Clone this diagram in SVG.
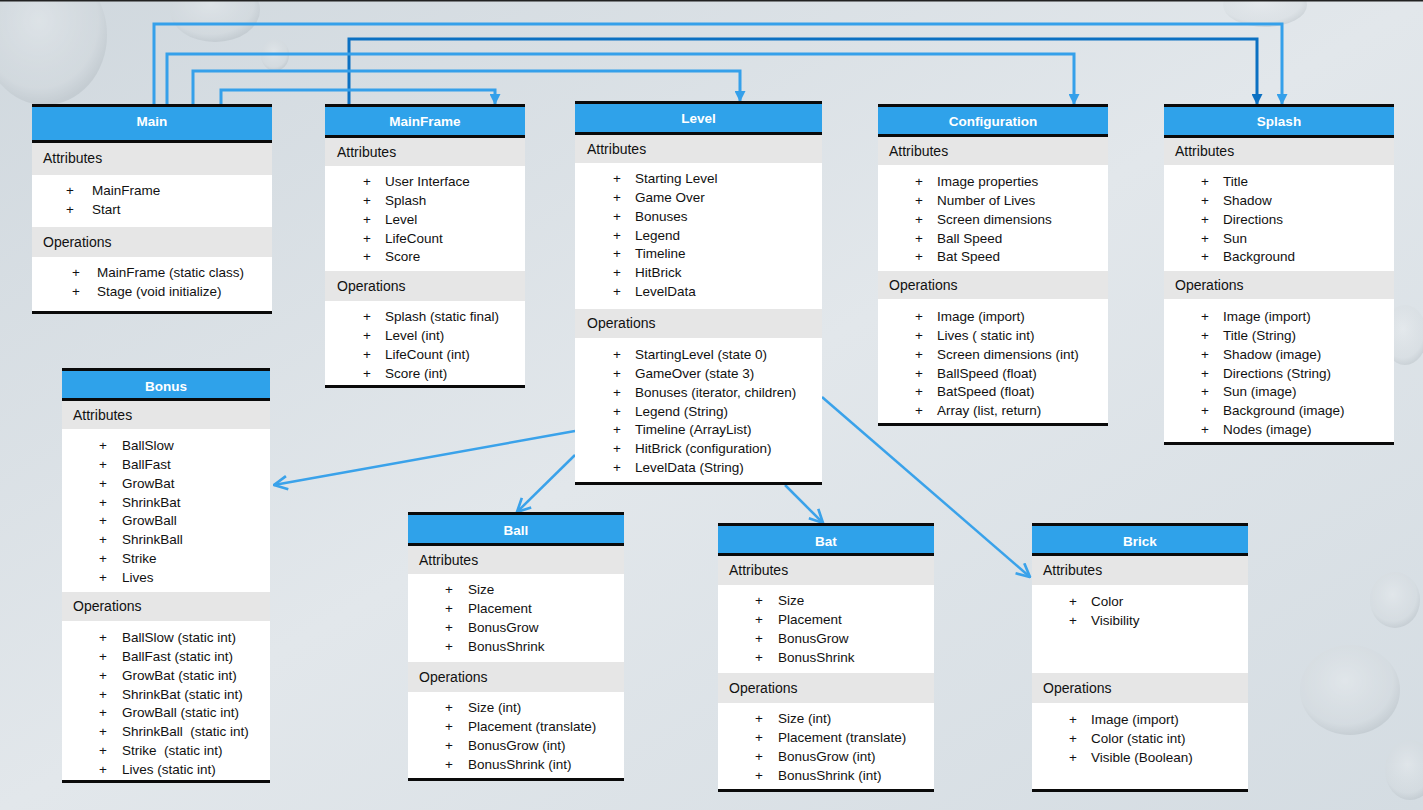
<svg xmlns="http://www.w3.org/2000/svg" width="1423" height="810" viewBox="0 0 1423 810">
<style>
.bar{fill:#0a0a0a}
.hdr{fill:#2fa2ea}
.band{fill:#e6e6e6}
.body{fill:#ffffff}
.title{font-family:"Liberation Sans",Arial,sans-serif;font-size:13.5px;font-weight:bold;fill:#ffffff;text-anchor:middle}
.sec{font-family:"Liberation Sans",Arial,sans-serif;font-size:14px;fill:#111111}
.it{font-family:"Liberation Sans",Arial,sans-serif;font-size:13.5px;fill:#111111}
.pl{font-family:"Liberation Sans",Arial,sans-serif;font-size:13.5px;fill:#111111;text-anchor:middle}
.c{fill:none;stroke:#35a0ea;stroke-width:3}
.cd{fill:none;stroke:#0b70c2;stroke-width:3}
.d{fill:none;stroke:#3aa2ea;stroke-width:2.5}
</style>
<defs>
<linearGradient id="bg" x1="0" y1="0" x2="1" y2="1">
<stop offset="0" stop-color="#d0d8de"/>
<stop offset="0.5" stop-color="#e2e7eb"/>
<stop offset="1" stop-color="#d4dce2"/>
</linearGradient>
<radialGradient id="drop" cx="0.45" cy="0.4" r="0.6">
<stop offset="0" stop-color="#eef1f3" stop-opacity="0.7"/>
<stop offset="0.8" stop-color="#d2d8dc" stop-opacity="0.5"/>
<stop offset="1" stop-color="#a3acb2" stop-opacity="0.5"/>
</radialGradient>
<marker id="a" viewBox="0 0 10 10" refX="10" refY="5" markerWidth="11" markerHeight="11" markerUnits="userSpaceOnUse" orient="auto">
<path d="M0,0 L10,5 L0,10 z" fill="#35a0ea"/>
</marker>
<marker id="ad" viewBox="0 0 10 10" refX="10" refY="5" markerWidth="11" markerHeight="11" markerUnits="userSpaceOnUse" orient="auto">
<path d="M0,0 L10,5 L0,10 z" fill="#0b70c2"/>
</marker>
<marker id="o" viewBox="-1 -1 12 12" refX="10" refY="5" markerWidth="16" markerHeight="16" markerUnits="userSpaceOnUse" orient="auto">
<path d="M0,0 L10,5 L0,10" fill="none" stroke="#3aa2ea" stroke-width="2"/>
</marker>
</defs>

<rect x="0" y="0" width="1423" height="810" fill="url(#bg)"/>
<g opacity="0.6">
<ellipse cx="45" cy="35" rx="62" ry="70" fill="url(#drop)"/>
<ellipse cx="215" cy="10" rx="45" ry="32" fill="url(#drop)"/>
<ellipse cx="275" cy="55" rx="14" ry="16" fill="url(#drop)"/>
<ellipse cx="1265" cy="5" rx="42" ry="22" fill="url(#drop)"/>
<ellipse cx="1405" cy="335" rx="22" ry="30" fill="url(#drop)"/>
<ellipse cx="1395" cy="600" rx="25" ry="28" fill="url(#drop)"/>
<ellipse cx="1350" cy="690" rx="50" ry="45" fill="url(#drop)"/>
<ellipse cx="1410" cy="770" rx="25" ry="30" fill="url(#drop)"/>
</g>
<rect x="0" y="0" width="1423" height="1.5" fill="#222"/>

<g id="connectors">
<path class="c" d="M154,105 V24 H1282 V105" marker-end="url(#a)"/>
<path class="cd" d="M349,105 V39 H1257 V105" marker-end="url(#ad)"/>
<path class="c" d="M167,105 V54 H1074 V105" marker-end="url(#a)"/>
<path class="c" d="M193,105 V71 H740 V102" marker-end="url(#a)"/>
<path class="c" d="M221,105 V90 H495 V105" marker-end="url(#a)"/>
<path class="d" d="M575,431 L274,485" marker-end="url(#o)"/>
<path class="d" d="M575,455 L517,512" marker-end="url(#o)"/>
<path class="d" d="M785,485 L823,523" marker-end="url(#o)"/>
<path class="d" d="M822,397 L1030,577" marker-end="url(#o)"/>
</g>

<g id="main">
<rect class="bar" x="32" y="104" width="240" height="3"/>
<rect class="hdr" x="32" y="107" width="240" height="33"/>
<rect class="bar" x="32" y="140" width="240" height="3"/>
<rect class="band" x="32" y="143" width="240" height="32"/>
<rect class="body" x="32" y="175" width="240" height="52"/>
<rect class="band" x="32" y="227" width="240" height="30"/>
<rect class="body" x="32" y="257" width="240" height="54"/>
<rect class="bar" x="32" y="311" width="240" height="3"/>
<text class="title" x="152" y="126">Main</text>
<text class="sec" x="43" y="163">Attributes</text>
<text class="pl" x="70" y="195">+</text><text class="it" x="92" y="195">MainFrame</text>
<text class="pl" x="70" y="214">+</text><text class="it" x="92" y="214">Start</text>
<text class="sec" x="43" y="247">Operations</text>
<text class="pl" x="76" y="277">+</text><text class="it" x="97" y="277">MainFrame (static class)</text>
<text class="pl" x="76" y="296">+</text><text class="it" x="97" y="296">Stage (void initialize)</text>
</g>

<g id="mainframe">
<rect class="bar" x="325" y="104" width="200" height="3"/>
<rect class="hdr" x="325" y="107" width="200" height="28"/>
<rect class="bar" x="325" y="135" width="200" height="3"/>
<rect class="band" x="325" y="138" width="200" height="28"/>
<rect class="body" x="325" y="166" width="200" height="105"/>
<rect class="band" x="325" y="271" width="200" height="30"/>
<rect class="body" x="325" y="301" width="200" height="84"/>
<rect class="bar" x="325" y="385" width="200" height="3"/>
<text class="title" x="425" y="126">MainFrame</text>
<text class="sec" x="337" y="156.5">Attributes</text>
<text class="pl" x="367" y="186">+</text><text class="it" x="385" y="186">User Interface</text>
<text class="pl" x="367" y="205">+</text><text class="it" x="385" y="205">Splash</text>
<text class="pl" x="367" y="224">+</text><text class="it" x="385" y="224">Level</text>
<text class="pl" x="367" y="243">+</text><text class="it" x="385" y="243">LifeCount</text>
<text class="pl" x="367" y="261">+</text><text class="it" x="385" y="261">Score</text>
<text class="sec" x="337" y="290.5">Operations</text>
<text class="pl" x="367" y="321">+</text><text class="it" x="385" y="321">Splash (static final)</text>
<text class="pl" x="367" y="340">+</text><text class="it" x="385" y="340">Level (int)</text>
<text class="pl" x="367" y="359">+</text><text class="it" x="385" y="359">LifeCount (int)</text>
<text class="pl" x="367" y="378">+</text><text class="it" x="385" y="378">Score (int)</text>
</g>

<g id="level">
<rect class="bar" x="575" y="101" width="247" height="3"/>
<rect class="hdr" x="575" y="104" width="247" height="28"/>
<rect class="bar" x="575" y="132" width="247" height="3"/>
<rect class="band" x="575" y="135" width="247" height="28"/>
<rect class="body" x="575" y="163" width="247" height="146"/>
<rect class="band" x="575" y="309" width="247" height="29"/>
<rect class="body" x="575" y="338" width="247" height="144"/>
<rect class="bar" x="575" y="482" width="247" height="3"/>
<text class="title" x="698.5" y="123">Level</text>
<text class="sec" x="587" y="153.5">Attributes</text>
<text class="pl" x="617" y="183">+</text><text class="it" x="635" y="183">Starting Level</text>
<text class="pl" x="617" y="202">+</text><text class="it" x="635" y="202">Game Over</text>
<text class="pl" x="617" y="221">+</text><text class="it" x="635" y="221">Bonuses</text>
<text class="pl" x="617" y="240">+</text><text class="it" x="635" y="240">Legend</text>
<text class="pl" x="617" y="258">+</text><text class="it" x="635" y="258">Timeline</text>
<text class="pl" x="617" y="277">+</text><text class="it" x="635" y="277">HitBrick</text>
<text class="pl" x="617" y="296">+</text><text class="it" x="635" y="296">LevelData</text>
<text class="sec" x="587" y="328">Operations</text>
<text class="pl" x="617" y="359">+</text><text class="it" x="635" y="359">StartingLevel (state 0)</text>
<text class="pl" x="617" y="378">+</text><text class="it" x="635" y="378">GameOver (state 3)</text>
<text class="pl" x="617" y="397">+</text><text class="it" x="635" y="397">Bonuses (iterator, children)</text>
<text class="pl" x="617" y="416">+</text><text class="it" x="635" y="416">Legend (String)</text>
<text class="pl" x="617" y="434">+</text><text class="it" x="635" y="434">Timeline (ArrayList)</text>
<text class="pl" x="617" y="453">+</text><text class="it" x="635" y="453">HitBrick (configuration)</text>
<text class="pl" x="617" y="472">+</text><text class="it" x="635" y="472">LevelData (String)</text>
</g>

<g id="configuration">
<rect class="bar" x="878" y="104" width="230" height="3"/>
<rect class="hdr" x="878" y="107" width="230" height="27"/>
<rect class="bar" x="878" y="134" width="230" height="3"/>
<rect class="band" x="878" y="137" width="230" height="28"/>
<rect class="body" x="878" y="165" width="230" height="106"/>
<rect class="band" x="878" y="271" width="230" height="28"/>
<rect class="body" x="878" y="299" width="230" height="124"/>
<rect class="bar" x="878" y="423" width="230" height="3"/>
<text class="title" x="993" y="126">Configuration</text>
<text class="sec" x="889" y="155.5">Attributes</text>
<text class="pl" x="919" y="186">+</text><text class="it" x="937" y="186">Image properties</text>
<text class="pl" x="919" y="205">+</text><text class="it" x="937" y="205">Number of Lives</text>
<text class="pl" x="919" y="224">+</text><text class="it" x="937" y="224">Screen dimensions</text>
<text class="pl" x="919" y="243">+</text><text class="it" x="937" y="243">Ball Speed</text>
<text class="pl" x="919" y="261">+</text><text class="it" x="937" y="261">Bat Speed</text>
<text class="sec" x="889" y="289.5">Operations</text>
<text class="pl" x="919" y="321">+</text><text class="it" x="937" y="321">Image (import)</text>
<text class="pl" x="919" y="340">+</text><text class="it" x="937" y="340">Lives ( static int)</text>
<text class="pl" x="919" y="359">+</text><text class="it" x="937" y="359">Screen dimensions (int)</text>
<text class="pl" x="919" y="378">+</text><text class="it" x="937" y="378">BallSpeed (float)</text>
<text class="pl" x="919" y="396">+</text><text class="it" x="937" y="396">BatSpeed (float)</text>
<text class="pl" x="919" y="415">+</text><text class="it" x="937" y="415">Array (list, return)</text>
</g>

<g id="splash">
<rect class="bar" x="1164" y="104" width="230" height="3"/>
<rect class="hdr" x="1164" y="107" width="230" height="28"/>
<rect class="bar" x="1164" y="135" width="230" height="3"/>
<rect class="band" x="1164" y="138" width="230" height="27"/>
<rect class="body" x="1164" y="165" width="230" height="106"/>
<rect class="band" x="1164" y="271" width="230" height="28"/>
<rect class="body" x="1164" y="299" width="230" height="143"/>
<rect class="bar" x="1164" y="442" width="230" height="3"/>
<text class="title" x="1279" y="126">Splash</text>
<text class="sec" x="1175" y="155.5">Attributes</text>
<text class="pl" x="1205" y="186">+</text><text class="it" x="1223" y="186">Title</text>
<text class="pl" x="1205" y="205">+</text><text class="it" x="1223" y="205">Shadow</text>
<text class="pl" x="1205" y="224">+</text><text class="it" x="1223" y="224">Directions</text>
<text class="pl" x="1205" y="243">+</text><text class="it" x="1223" y="243">Sun</text>
<text class="pl" x="1205" y="261">+</text><text class="it" x="1223" y="261">Background</text>
<text class="sec" x="1175" y="289.5">Operations</text>
<text class="pl" x="1205" y="321">+</text><text class="it" x="1223" y="321">Image (import)</text>
<text class="pl" x="1205" y="340">+</text><text class="it" x="1223" y="340">Title (String)</text>
<text class="pl" x="1205" y="359">+</text><text class="it" x="1223" y="359">Shadow (image)</text>
<text class="pl" x="1205" y="378">+</text><text class="it" x="1223" y="378">Directions (String)</text>
<text class="pl" x="1205" y="396">+</text><text class="it" x="1223" y="396">Sun (image)</text>
<text class="pl" x="1205" y="415">+</text><text class="it" x="1223" y="415">Background (image)</text>
<text class="pl" x="1205" y="434">+</text><text class="it" x="1223" y="434">Nodes (image)</text>
</g>

<g id="bonus">
<rect class="bar" x="62" y="368" width="208" height="3"/>
<rect class="hdr" x="62" y="371" width="208" height="27"/>
<rect class="bar" x="62" y="398" width="208" height="3"/>
<rect class="band" x="62" y="401" width="208" height="28"/>
<rect class="body" x="62" y="429" width="208" height="163"/>
<rect class="band" x="62" y="592" width="208" height="29"/>
<rect class="body" x="62" y="621" width="208" height="159"/>
<rect class="bar" x="62" y="780" width="208" height="3"/>
<text class="title" x="166" y="391">Bonus</text>
<text class="sec" x="73" y="419.5">Attributes</text>
<text class="pl" x="103" y="450">+</text><text class="it" x="122" y="450">BallSlow</text>
<text class="pl" x="103" y="469">+</text><text class="it" x="122" y="469">BallFast</text>
<text class="pl" x="103" y="488">+</text><text class="it" x="122" y="488">GrowBat</text>
<text class="pl" x="103" y="507">+</text><text class="it" x="122" y="507">ShrinkBat</text>
<text class="pl" x="103" y="525">+</text><text class="it" x="122" y="525">GrowBall</text>
<text class="pl" x="103" y="544">+</text><text class="it" x="122" y="544">ShrinkBall</text>
<text class="pl" x="103" y="563">+</text><text class="it" x="122" y="563">Strike</text>
<text class="pl" x="103" y="582">+</text><text class="it" x="122" y="582">Lives</text>
<text class="sec" x="73" y="611">Operations</text>
<text class="pl" x="103" y="642">+</text><text class="it" x="122" y="642">BallSlow (static int)</text>
<text class="pl" x="103" y="661">+</text><text class="it" x="122" y="661">BallFast (static int)</text>
<text class="pl" x="103" y="680">+</text><text class="it" x="122" y="680">GrowBat (static int)</text>
<text class="pl" x="103" y="699">+</text><text class="it" x="122" y="699">ShrinkBat (static int)</text>
<text class="pl" x="103" y="717">+</text><text class="it" x="122" y="717">GrowBall (static int)</text>
<text class="pl" x="103" y="736">+</text><text class="it" x="122" y="736" xml:space="preserve">ShrinkBall  (static int)</text>
<text class="pl" x="103" y="755">+</text><text class="it" x="122" y="755" xml:space="preserve">Strike  (static int)</text>
<text class="pl" x="103" y="774">+</text><text class="it" x="122" y="774">Lives (static int)</text>
</g>

<g id="ball">
<rect class="bar" x="408" y="512" width="216" height="3"/>
<rect class="hdr" x="408" y="515" width="216" height="28"/>
<rect class="bar" x="408" y="543" width="216" height="3"/>
<rect class="band" x="408" y="546" width="216" height="28"/>
<rect class="body" x="408" y="574" width="216" height="88"/>
<rect class="band" x="408" y="662" width="216" height="30"/>
<rect class="body" x="408" y="692" width="216" height="86"/>
<rect class="bar" x="408" y="778" width="216" height="3"/>
<text class="title" x="516" y="535">Ball</text>
<text class="sec" x="419" y="564.5">Attributes</text>
<text class="pl" x="449" y="594">+</text><text class="it" x="468" y="594">Size</text>
<text class="pl" x="449" y="613">+</text><text class="it" x="468" y="613">Placement</text>
<text class="pl" x="449" y="632">+</text><text class="it" x="468" y="632">BonusGrow</text>
<text class="pl" x="449" y="651">+</text><text class="it" x="468" y="651">BonusShrink</text>
<text class="sec" x="419" y="681.5">Operations</text>
<text class="pl" x="449" y="712">+</text><text class="it" x="468" y="712">Size (int)</text>
<text class="pl" x="449" y="731">+</text><text class="it" x="468" y="731">Placement (translate)</text>
<text class="pl" x="449" y="750">+</text><text class="it" x="468" y="750">BonusGrow (int)</text>
<text class="pl" x="449" y="769">+</text><text class="it" x="468" y="769">BonusShrink (int)</text>
</g>

<g id="bat">
<rect class="bar" x="718" y="523" width="216" height="3"/>
<rect class="hdr" x="718" y="526" width="216" height="27"/>
<rect class="bar" x="718" y="553" width="216" height="3"/>
<rect class="band" x="718" y="556" width="216" height="29"/>
<rect class="body" x="718" y="585" width="216" height="88"/>
<rect class="band" x="718" y="673" width="216" height="30"/>
<rect class="body" x="718" y="703" width="216" height="86"/>
<rect class="bar" x="718" y="789" width="216" height="3"/>
<text class="title" x="826" y="546">Bat</text>
<text class="sec" x="729" y="575">Attributes</text>
<text class="pl" x="759" y="605">+</text><text class="it" x="778" y="605">Size</text>
<text class="pl" x="759" y="624">+</text><text class="it" x="778" y="624">Placement</text>
<text class="pl" x="759" y="643">+</text><text class="it" x="778" y="643">BonusGrow</text>
<text class="pl" x="759" y="662">+</text><text class="it" x="778" y="662">BonusShrink</text>
<text class="sec" x="729" y="692.5">Operations</text>
<text class="pl" x="759" y="723">+</text><text class="it" x="778" y="723">Size (int)</text>
<text class="pl" x="759" y="742">+</text><text class="it" x="778" y="742">Placement (translate)</text>
<text class="pl" x="759" y="761">+</text><text class="it" x="778" y="761">BonusGrow (int)</text>
<text class="pl" x="759" y="780">+</text><text class="it" x="778" y="780">BonusShrink (int)</text>
</g>

<g id="brick">
<rect class="bar" x="1032" y="523" width="216" height="3"/>
<rect class="hdr" x="1032" y="526" width="216" height="27"/>
<rect class="bar" x="1032" y="553" width="216" height="3"/>
<rect class="band" x="1032" y="556" width="216" height="29"/>
<rect class="body" x="1032" y="585" width="216" height="88"/>
<rect class="band" x="1032" y="673" width="216" height="30"/>
<rect class="body" x="1032" y="703" width="216" height="86"/>
<rect class="bar" x="1032" y="789" width="216" height="3"/>
<text class="title" x="1140" y="546">Brick</text>
<text class="sec" x="1043" y="575">Attributes</text>
<text class="pl" x="1073" y="606">+</text><text class="it" x="1091" y="606">Color</text>
<text class="pl" x="1073" y="625">+</text><text class="it" x="1091" y="625">Visibility</text>
<text class="sec" x="1043" y="692.5">Operations</text>
<text class="pl" x="1073" y="724">+</text><text class="it" x="1091" y="724">Image (import)</text>
<text class="pl" x="1073" y="743">+</text><text class="it" x="1091" y="743">Color (static int)</text>
<text class="pl" x="1073" y="762">+</text><text class="it" x="1091" y="762">Visible (Boolean)</text>
</g>
</svg>
